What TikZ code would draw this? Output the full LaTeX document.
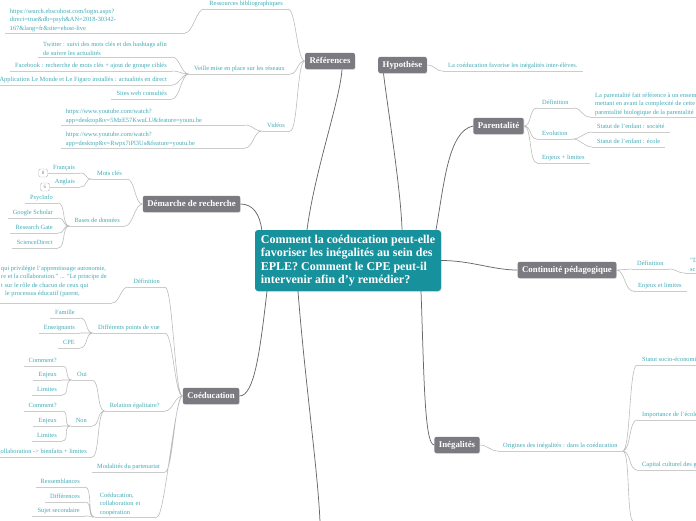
\documentclass[tikz,border=0pt]{standalone}
\usepackage{fontspec}
\setmainfont{Liberation Serif}
\usetikzlibrary{positioning,shadows}
\definecolor{rootteal}{HTML}{17919C}
\definecolor{topicgray}{HTML}{7B7A80}
\definecolor{leafteal}{HTML}{3FA9B5}
\definecolor{linegray}{HTML}{BCBCBC}
\definecolor{ulinegray}{HTML}{CCCCCC}
\definecolor{maingray}{HTML}{686868}
\newcommand{\leaffont}{\fontsize{6.4}{8.4}\selectfont}
\tikzset{
  rootbox/.style={fill=rootteal, text=white, rounded corners=3pt, align=left, minimum width=186pt, minimum height=61pt, inner sep=4pt, font=\fontsize{12}{13.4}\selectfont\bfseries, drop shadow={shadow xshift=0.6pt, shadow yshift=-0.8pt, opacity=0.25}},
  topic/.style={fill=topicgray, text=white, rounded corners=2pt, inner xsep=4.5pt, inner ysep=4pt, text height=6.3pt, text depth=1.9pt, font=\fontsize{8.8}{10}\selectfont\bfseries, drop shadow={shadow xshift=0.6pt, shadow yshift=-0.8pt, opacity=0.25}},
  uline/.style={draw=ulinegray, line width=0.8pt},
  leaf/.style={text=leafteal, font=\leaffont, align=left, inner xsep=5pt, inner ysep=1.4pt, append after command={(\tikzlastnode.south west) edge[uline] (\tikzlastnode.south east)}},
  lleaf/.style={leaf, text depth=1.8pt, anchor=south east},
  rleaf/.style={leaf, text depth=1.8pt, anchor=south west},
  lnote/.style={leaf, anchor=south east},
  rnote/.style={leaf, anchor=south west},
  badge/.style={draw=gray!55, fill=white, rounded corners=1.5pt, text=gray, font=\fontsize{5}{5}\selectfont, minimum width=9pt, minimum height=8pt, inner sep=0pt},
  mainlink/.style={draw=maingray, line width=0.75pt},
  lbr/.style={draw=linegray, line width=0.6pt, to path={.. controls +(-8,0) and +(8,0) .. (\tikztotarget)}},
  rbr/.style={draw=linegray, line width=0.6pt, to path={.. controls +(8,0) and +(-8,0) .. (\tikztotarget)}}
}
\begin{document}
\begin{tikzpicture}[x=1pt, y=-1pt]
  \useasboundingbox (0,0) rectangle (696,520);
  \clip (0,0) rectangle (696,520);

  \node[rootbox] (root) at (348,260.5) {Comment la coéducation peut-elle\\favoriser les inégalités au sein des\\EPLE? Comment le CPE peut-il\\intervenir afin d'y remédier?};

  \node[topic] (refs) at (330,61) {Références};
  \node[topic] (hypo) at (402.5,65) {Hypothèse};
  \node[topic] (paren) at (498.5,126) {Parentalité};
  \node[topic] (conti) at (567,270) {Continuité pédagogique};
  \node[topic] (inega) at (457,445) {Inégalités};
  \node[topic] (coedu) at (211,396) {Coéducation};
  \node[topic] (demar) at (191.5,204) {Démarche de recherche};
  \coordinate (rootdown) at (320,522);

  \draw[mainlink] ([xshift=-41pt]root.north) .. controls +(8,-60) and +(-2,31) .. ([xshift=12pt]refs.south);
  \draw[mainlink] ([xshift=54pt]root.north) .. controls +(-1,-40) and +(3,27) .. ([xshift=-19pt]hypo.south);
  \draw[mainlink] ([xshift=88pt]root.north) .. controls +(8,-45) and +(-25,5) .. (paren.west);
  \draw[mainlink] (root.east) .. controls +(30,0) and +(-25,0) .. (conti.west);
  \draw[mainlink] ([xshift=73pt]root.south) .. controls +(3,80) and +(-10,0) .. (inega.west);
  \draw[mainlink] ([xshift=-50pt]root.south) .. controls +(7,90) and +(-2,-50) .. (rootdown);
  \draw[mainlink] ([xshift=-81pt]root.south) .. controls +(-7,60) and +(15,0) .. (coedu.east);
  \draw[mainlink] ([xshift=7pt]root.north west) .. controls +(-2,-15) and +(13,0) .. (demar.east);

  \node[lleaf] (biblio) at (288,9) {Ressources bibliographiques};
  \node[lnote, text width=170pt] (ebsco) at (185,33) {https://search.ebscohost.com/login.aspx?\\direct=true\&db=psyh\&AN=2018-30342-\\167\&lang=fr\&site=ehost-live};
  \node[lleaf] (veille) at (290,74) {Veille mise en place sur les réseaux};
  \node[lnote] (twitter) at (172,57) {Twitter : suivi des mots clés et des hashtags afin\\de suivre les actualités};
  \node[lleaf] (facebook) at (172,71) {Facebook : recherche de mots clés + ajout de groupe ciblés};
  \node[lleaf] (appli) at (172,85) {Application Le Monde et Le Figaro installés : actualités en direct};
  \node[lleaf] (sites) at (172,99) {Sites web consultés};
  \node[lleaf] (videos) at (290,131) {Vidéos};
  \node[lnote, text width=174pt] (yt1) at (245,125) {https://www.youtube.com/watch?\\app=desktop\&v=5MzE57KwuLU\&feature=youtu.be};
  \node[lnote, text width=174pt] (yt2) at (245,148) {https://www.youtube.com/watch?\\app=desktop\&v=Rwpx7iPl3Us\&feature=youtu.be};

  \node[lleaf] (motscles) at (127,179) {Mots clés};
  \node[lleaf] (francais) at (80,173) {Français};
  \node[lleaf] (anglais) at (80,187) {Anglais};
  \node[badge, anchor=east] (nb8) at (francais.south west) {8};
  \node[badge, anchor=east] (nb6) at (anglais.south west) {6};
  \node[lleaf] (bases) at (125,226) {Bases de données};
  \node[lleaf] (psyc) at (58,203) {PsycInfo};
  \node[lleaf] (scholar) at (58,218) {Google Scholar};
  \node[lleaf] (rgate) at (58,233) {Research Gate};
  \node[lleaf] (sdirect) at (58,248) {ScienceDirect};

  \node[lleaf] (defco) at (165,287) {Définition};
  \node[lnote, anchor=south west, inner ysep=6pt] (defcotxt) at (-4,303) {qui privilégie l'apprentissage autonomie,\\re et la collaboration." ... "Le principe de\\t sur le rôle de chacun de ceux qui\\\hspace*{4pt}le processus éducatif (parent,};
  \node[lleaf] (pdv) at (165,333) {Différents points de vue};
  \node[lleaf] (famille) at (80,318) {Famille};
  \node[lleaf] (enseig) at (80,333) {Enseignants};
  \node[lleaf] (cpe) at (80,348) {CPE};
  \node[lleaf] (relat) at (165,411) {Relation égalitaire?};
  \node[lleaf] (oui) at (92,380) {Oui};
  \node[lleaf] (comoui) at (62,366) {Comment?};
  \node[lleaf] (enjoui) at (62,380) {Enjeux};
  \node[lleaf] (limoui) at (62,395) {Limites};
  \node[lleaf] (non) at (92,426) {Non};
  \node[lleaf] (comnon) at (62,411) {Comment?};
  \node[lleaf] (enjnon) at (62,426) {Enjeux};
  \node[lleaf] (limnon) at (62,441) {Limites};
  \node[lleaf] (collab) at (92,457) {Collaboration -> bienfaits + limites};
  \node[lleaf] (modal) at (165,472) {Modalités du partenariat};
  \node[lnote, text width=52pt] (coop) at (157,517) {Coéducation,\\collaboration et\\coopération};
  \node[lleaf] (ressem) at (85,487) {Ressemblances};
  \node[lleaf] (differ) at (85,502) {Différences};
  \node[lleaf] (sujet) at (85,516) {Sujet secondaire};

  \node[rleaf] (hyptxt) at (443,71) {La coéducation favorise les inégalités inter-élèves.};
  \node[rleaf] (defpar) at (537,108) {Définition};
  \node[rnote] (defpartxt) at (590,117) {La parentalité fait référence à un ensemble\\mettant en avant la complexité de cette\\parentalité biologique de la parentalité};
  \node[rleaf] (evol) at (537,139) {Evolution};
  \node[rleaf] (statsoc) at (592,132) {Statut de l'enfant : société};
  \node[rleaf] (statecole) at (592,147) {Statut de l'enfant : école};
  \node[rleaf] (enjpar) at (537,163) {Enjeux + limites};
  \node[rleaf] (defcont) at (632,269) {Définition};
  \node[rnote] (defconttxt) at (685,273) {"D\\sc};
  \node[rleaf] (enjcont) at (633,291) {Enjeux et limites};
  \node[rleaf] (orig) at (498,451) {Origines des inégalités : dans la coéducation};
  \node[rleaf] (socio) at (637,365) {Statut socio-économique};
  \node[rleaf] (ecole) at (637,420) {Importance de l'école};
  \node[rleaf] (capital) at (637,470) {Capital culturel des g};
  \coordinate (origdown) at (634,522);

  \draw[lbr] (refs.west) to (biblio.south east) (refs.west) to (veille.south east) (refs.west) to (videos.south east);
  \draw[lbr] (biblio.south west) to (ebsco.south east);
  \draw[lbr] (veille.south west) to (twitter.south east) (veille.south west) to (facebook.south east) (veille.south west) to (appli.south east) (veille.south west) to (sites.south east);
  \draw[lbr] (videos.south west) to (yt1.south east) (videos.south west) to (yt2.south east);
  \draw[lbr] (demar.west) to (motscles.south east) (demar.west) to (bases.south east);
  \draw[lbr] (motscles.south west) to (francais.south east) (motscles.south west) to (anglais.south east);
  \draw[lbr] (bases.south west) to (psyc.south east) (bases.south west) to (scholar.south east) (bases.south west) to (rgate.south east) (bases.south west) to (sdirect.south east);
  \draw[lbr] (coedu.west) to (defco.south east) (coedu.west) to (pdv.south east) (coedu.west) to (relat.south east) (coedu.west) to (modal.south east) (coedu.west) to (coop.south east);
  \draw[lbr] (defco.south west) to (defcotxt.south east);
  \draw[lbr] (pdv.south west) to (famille.south east) (pdv.south west) to (enseig.south east) (pdv.south west) to (cpe.south east);
  \draw[lbr] (relat.south west) to (oui.south east) (relat.south west) to (non.south east) (relat.south west) to (collab.south east);
  \draw[lbr] (oui.south west) to (comoui.south east) (oui.south west) to (enjoui.south east) (oui.south west) to (limoui.south east);
  \draw[lbr] (non.south west) to (comnon.south east) (non.south west) to (enjnon.south east) (non.south west) to (limnon.south east);
  \draw[lbr] (coop.south west) to (ressem.south east) (coop.south west) to (differ.south east) (coop.south west) to (sujet.south east);

  \draw[rbr] (hypo.east) to (hyptxt.south west);
  \draw[rbr] (paren.east) to (defpar.south west) (paren.east) to (evol.south west) (paren.east) to (enjpar.south west);
  \draw[rbr] (defpar.south east) to (defpartxt.south west);
  \draw[rbr] (evol.south east) to (statsoc.south west) (evol.south east) to (statecole.south west);
  \draw[rbr] (conti.east) to (defcont.south west) (conti.east) to (enjcont.south west);
  \draw[rbr] (defcont.south east) to (defconttxt.south west);
  \draw[rbr] (inega.east) to (orig.south west);
  \draw[rbr] (orig.south east) to (socio.south west) (orig.south east) to (ecole.south west) (orig.south east) to (capital.south west) (orig.south east) to (origdown);
\end{tikzpicture}
\end{document}
